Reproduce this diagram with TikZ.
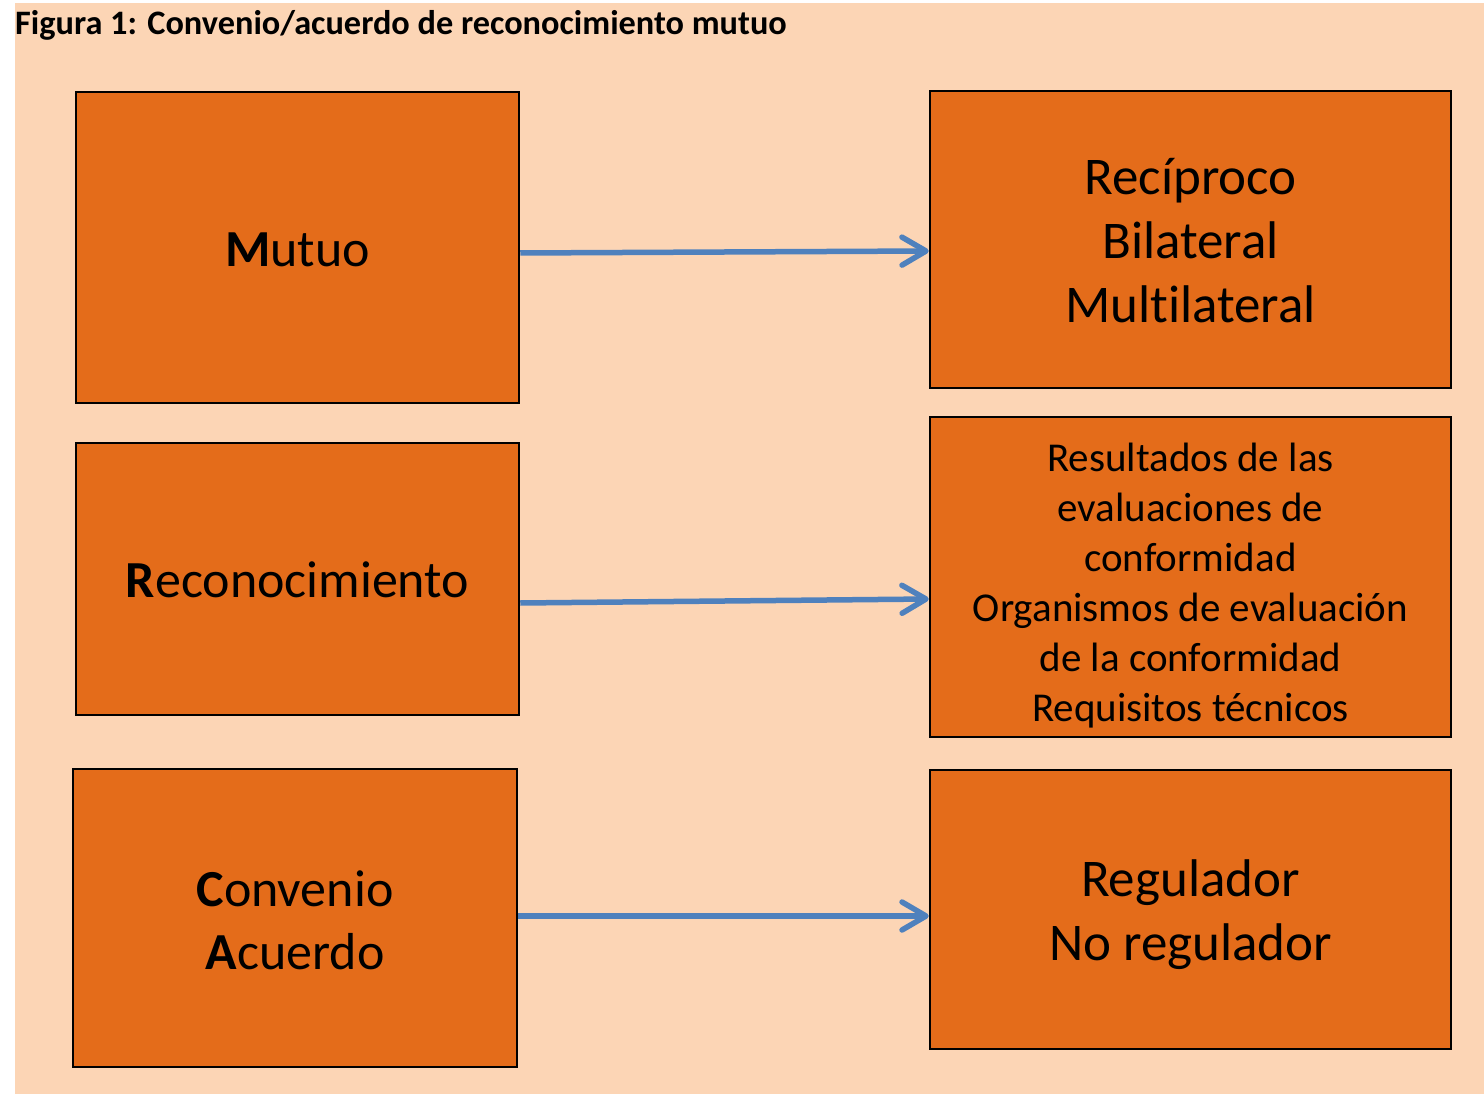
\documentclass[tikz,border=0pt]{standalone}
\usepackage{fontspec}
\setmainfont{Carlito}[Ligatures={NoCommon}]
\usetikzlibrary{arrows.meta}
\definecolor{peach}{HTML}{FCD5B5}
\definecolor{boxorange}{HTML}{E46C1A}
\definecolor{arrowblue}{HTML}{4F81BD}
\tikzset{
  box/.style={draw=black, line width=2.5pt, fill=boxorange, inner sep=0pt},
  lefttext/.style={font=\fontsize{52}{63}\selectfont, align=center, inner sep=0pt},
  righttext/.style={font=\fontsize{53}{64}\selectfont, align=center, inner sep=0pt},
  smalltext/.style={font=\fontsize{41}{50}\selectfont, align=center, inner sep=0pt},
  conn/.style={draw=arrowblue, line width=5.5pt, -{Straight Barb[length=24pt,width=28pt,round]}}
}
\begin{document}
\begin{tikzpicture}[x=1pt,y=-1pt]
\useasboundingbox (0,0) rectangle (1484,1094);
\fill[white] (0,0) rectangle (1484,1094);
\fill[peach] (15,3) rectangle (1484,1094);
\node[anchor=base west, font=\bfseries\fontsize{34.3}{40}\selectfont, inner sep=0pt] (title) at (15,35) {Figura 1: Convenio/acuerdo de reconocimiento mutuo};

\node[box, minimum width=443pt, minimum height=311pt,
  label={[lefttext, name=mutuoT, yshift=-2pt]center:{\textbf{M}utuo}}] (mutuo) at (297.5,247.5) {};
\node[box, minimum width=443pt, minimum height=272pt,
  label={[lefttext, name=recoT, yshift=-1pt]center:{\textbf{R}econocimiento}}] (reco) at (297.5,579) {};
\node[box, minimum width=444pt, minimum height=298pt,
  label={[lefttext, name=convT, yshift=-2pt]center:{\textbf{C}onvenio\\\textbf{A}cuerdo}}] (conv) at (295,918) {};

\node[box, minimum width=521pt, minimum height=297pt,
  label={[righttext, name=recipT, yshift=-1pt]center:{Recíproco\\Bilateral\\Multilateral}}] (recip) at (1190.5,239.5) {};
\node[box, minimum width=521pt, minimum height=320pt,
  label={[smalltext, name=resT, yshift=-9pt]center:{Resultados de las\\evaluaciones de\\conformidad\\Organismos de evaluación\\de la conformidad\\Requisitos técnicos}}] (res) at (1190.5,577) {};
\node[box, minimum width=521pt, minimum height=279pt,
  label={[righttext, name=regT, yshift=-5.5pt]center:{Regulador\\No regulador}}] (reg) at (1190.5,909.5) {};

\draw[conn] ([yshift=-5.5pt]mutuo.east) -- ([yshift=-11.5pt]recip.west);
\draw[conn] ([yshift=-24pt]reco.east) -- ([yshift=-22pt]res.west);
\draw[conn] ([yshift=2pt]conv.east) -- ([yshift=-6.5pt]reg.west);
\end{tikzpicture}
\end{document}
